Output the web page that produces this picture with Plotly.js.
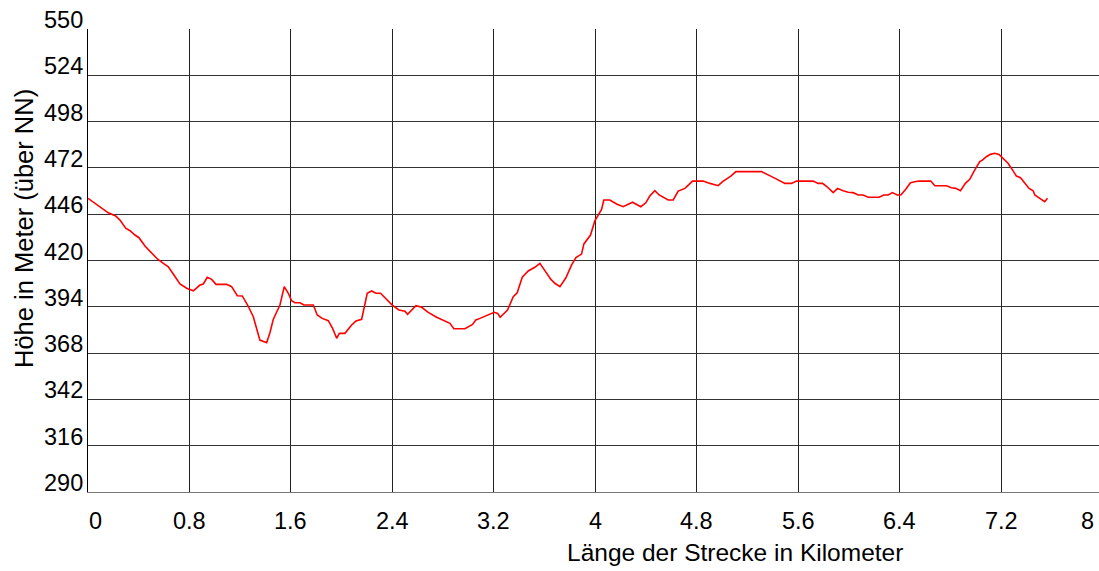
<!DOCTYPE html>
<html>
<head>
<meta charset="utf-8">
<script src="https://cdn.plot.ly/plotly-3.0.1.min.js"></script>
<style>html,body{margin:0;padding:0;background:#fff}#chart{width:1099px;height:571px}</style>
</head>
<body>
<div id="chart"></div>
<script>
const distanceKm = [0,0.055,0.102,0.16,0.218,0.252,0.297,0.331,0.37,0.402,0.449,0.502,0.549,0.594,0.633,0.672,0.725,0.778,0.83,0.883,0.909,0.94,0.975,1.009,1.093,1.132,1.177,1.216,1.258,1.303,1.355,1.408,1.434,1.46,1.513,1.547,1.579,1.605,1.631,1.671,1.702,1.776,1.807,1.846,1.894,1.928,1.96,1.981,2.025,2.078,2.112,2.157,2.201,2.236,2.27,2.306,2.354,2.398,2.451,2.498,2.519,2.551,2.585,2.63,2.682,2.748,2.813,2.853,2.884,2.971,3.031,3.057,3.089,3.15,3.202,3.229,3.249,3.273,3.307,3.352,3.383,3.423,3.47,3.522,3.562,3.601,3.649,3.68,3.72,3.767,3.811,3.846,3.89,3.909,3.961,3.995,4.048,4.066,4.113,4.166,4.218,4.292,4.357,4.397,4.428,4.468,4.502,4.573,4.613,4.652,4.705,4.765,4.849,4.902,4.967,5.002,5.067,5.107,5.309,5.401,5.493,5.545,5.585,5.716,5.755,5.79,5.826,5.874,5.908,5.952,5.992,6.031,6.071,6.11,6.149,6.236,6.273,6.307,6.341,6.378,6.407,6.446,6.483,6.517,6.551,6.643,6.675,6.767,6.806,6.84,6.877,6.916,6.95,6.989,7.029,7.05,7.081,7.113,7.147,7.181,7.213,7.252,7.292,7.318,7.35,7.384,7.418,7.45,7.463,7.502,7.541,7.563];
const elevationM = [454.9,452.1,450.2,446.8,445.0,442.7,438.1,436.7,434.3,432.8,428.1,424.4,420.7,418.4,416.5,412.4,406.8,404.4,403.0,406.2,406.8,410.6,409.4,406.6,406.6,405.3,400.2,400.1,395.0,388.4,375.3,373.8,379.4,386.9,395.0,405.3,401.6,397.4,396.3,396.3,395.0,395.0,389.4,387.5,386.2,381.9,376.3,379.1,379.1,383.8,386.0,387.0,401.6,402.9,401.6,401.6,398.2,395.0,392.2,391.5,389.8,392.2,394.6,393.7,390.9,388.1,386.0,384.7,381.7,381.7,384.1,386.6,387.5,389.4,390.9,390.3,388.1,389.8,392.2,399.7,401.9,410.6,414.1,416.2,418.4,414.3,409.4,407.2,405.3,410.3,417.4,421.6,423.6,429.3,434.3,442.3,448.7,454.0,454.0,451.7,450.2,452.7,450.2,452.4,456.2,459.2,456.8,454.0,454.0,459.0,460.5,464.6,464.6,463.3,462.0,464.3,467.4,469.9,469.9,466.7,463.3,463.3,464.6,464.6,463.3,463.3,461.4,458.1,460.5,459.2,458.3,458.1,456.8,456.8,455.5,455.5,456.8,456.8,458.1,456.8,456.8,460.0,463.7,464.2,464.6,464.6,462.0,462.0,460.9,460.5,459.2,463.3,465.6,470.8,475.5,476.4,478.3,479.6,480.2,479.6,477.4,474.6,470.3,467.4,466.5,463.7,460.5,459.2,456.8,454.9,453.0,454.9];
const xTickVals = [0,0.8,1.6,2.4,3.2,4,4.8,5.6,6.4,7.2,8];
const xTickText = ["0","0.8","1.6","2.4","3.2","4","4.8","5.6","6.4","7.2","8"];
const yTickVals = [290,316,342,368,394,420,446,472,498,524,550];
const yTickText = ["290","316","342","368","394","420","446","472","498","524","550"];
const xTitle = "Länge der Strecke in Kilometer";
const yTitle = "Höhe in Meter (über NN)";

const FAM = "Liberation Sans, Arial, sans-serif";
const TICKFONT = {family: FAM, size: 23.5, color: "#000"};
const annotations = [];
yTickVals.forEach((v, i) => {
  annotations.push({xref: "paper", yref: "y", x: 0, y: v, text: yTickText[i], showarrow: false,
    xanchor: "right", yanchor: "middle", xshift: -3, yshift: 9, font: TICKFONT});
});
xTickVals.forEach((v, i) => {
  const a = {xref: "x", yref: "paper", x: v, y: 0, text: xTickText[i], showarrow: false,
    xanchor: "center", yanchor: "middle", yshift: -29, font: TICKFONT};
  if (i === 0) { a.xanchor = "left"; a.xshift = -1; }
  if (i === xTickVals.length - 1) { a.xref = "paper"; a.x = 1; a.xanchor = "right"; a.xshift = -3; }
  annotations.push(a);
});
annotations.push({xref: "paper", yref: "paper", x: 0.640, y: -0.1296, text: xTitle, showarrow: false,
  xanchor: "center", yanchor: "middle", font: {family: FAM, size: 24.5, color: "#000"}});
annotations.push({xref: "paper", yref: "paper", x: -0.0633, y: 0.568, text: yTitle, showarrow: false,
  textangle: -90, xanchor: "center", yanchor: "middle", font: {family: FAM, size: 25.5, color: "#000"}});

const trace = {x: distanceKm, y: elevationM, type: "scatter", mode: "lines",
  line: {color: "#ff0000", width: 1.6}, hoverinfo: "skip"};

const layout = {
  width: 1099, height: 571,
  margin: {l: 88, r: 0, t: 29, b: 79, pad: 0},
  paper_bgcolor: "#fff", plot_bgcolor: "#fff",
  showlegend: false,
  xaxis: {range: [0, 7.969], tickvals: xTickVals, showticklabels: false, showgrid: true,
    gridcolor: "#222", gridwidth: 1, zeroline: false, showline: true, linecolor: "#777", linewidth: 1,
    ticks: "", fixedrange: true},
  yaxis: {range: [290, 550], tickvals: yTickVals, showticklabels: false, showgrid: true,
    gridcolor: "#333", gridwidth: 1, zeroline: false, showline: true, linecolor: "#000", linewidth: 1,
    ticks: "", fixedrange: true},
  annotations: annotations
};
Plotly.newPlot("chart", [trace], layout, {staticPlot: true, displayModeBar: false});
</script>
</body>
</html>
